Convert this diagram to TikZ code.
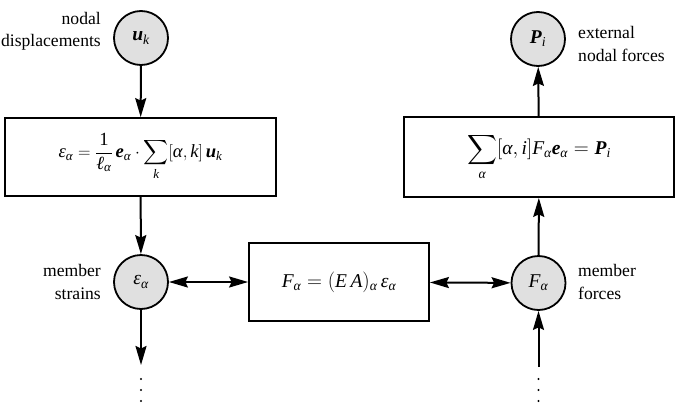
\documentclass[tikz,border=0pt]{standalone}
\usepackage{amsmath}
\usepackage{fontspec}
\setmainfont{Liberation Serif}
\usetikzlibrary{arrows.meta}
\newcommand{\mi}[1]{\text{\normalfont\itshape #1}}
\newcommand{\mb}[1]{\text{\normalfont\bfseries\itshape #1}}
\newcommand{\mr}[1]{\text{\normalfont #1}}
\begin{document}
\begin{tikzpicture}[x=1pt,y=-1pt,
  every node/.style={font=\rmfamily\fontsize{17.6}{22.5}\selectfont},
  mathbig/.style={font=\rmfamily\fontsize{19.5}{24}\selectfont},
  quant/.style={circle,draw,line width=1.8pt,fill=black!12,minimum size=54pt,inner sep=0pt,mathbig},
  eqbox/.style={rectangle,draw,line width=1.8pt,inner sep=0pt},
  lbl/.style={inner sep=0pt},
  conn/.style={line width=2pt,-{Stealth[length=19pt,width=11pt,inset=2.5pt]}},
  dconn/.style={line width=2pt,{Stealth[length=19pt,width=11pt,inset=2.5pt]}-{Stealth[length=19pt,width=11pt,inset=2.5pt]}},
  dotmark/.style={circle,fill=black,inner sep=0pt,minimum size=2.2pt}]
\useasboundingbox (0,0) rectangle (676,412);
% quantity nodes
\node[quant] (uk) at (141,38) {$\mb{u}_{\mi{k}}$};
\node[quant] (P) at (538,39) {$\mb{P}_{\mi{i}}$};
\node[quant] (eps) at (141,282) {$\mi{ε}_{\mi{α}}$};
\node[quant] (F) at (538.5,283) {$\mi{F}_{\mi{α}}$};
% equation boxes
\node[eqbox,minimum width=271pt,minimum height=78pt,font=\rmfamily\fontsize{18.6}{23}\selectfont] (b1) at (140.5,157)
  {$\displaystyle \mi{ε}_{\mi{α}} = \frac{\mr{1}}{\mi{ℓ}_{\mi{α}}}\,\mb{e}_{\mi{α}}\cdot\sum_{\mi{k}}[\mi{α},\mi{k}]\,\mb{u}_{\mi{k}}$};
\node[eqbox,minimum width=270pt,minimum height=80pt,mathbig] (b2) at (539,157)
  {$\displaystyle \sum_{\mi{α}}[\mi{α},\mi{i}]\mi{F}_{\mi{α}}\mb{e}_{\mi{α}} = \mb{P}_{\mi{i}}$};
\node[eqbox,minimum width=180pt,minimum height=78pt,mathbig] (b3) at (339,282)
  {$\mi{F}_{\mi{α}} = (\mi{E}\,\mi{A})_{\mi{α}}\,\mi{ε}_{\mi{α}}$};
% labels
\node[lbl,anchor=east,align=right] (l1) at (101,31.5) {nodal\\displacements};
\node[lbl,anchor=west,align=left] (l2) at (578,44) {external\\nodal forces};
\node[lbl,anchor=east,align=right] (l3) at (101,282) {member\\strains};
\node[lbl,anchor=west,align=left] (l4) at (578,282) {member\\forces};
% free ends
\coordinate (eend) at (141,365);
\coordinate (fstart) at (538.5,367);
% dots
\node[dotmark] (d1) at (141,379) {};
\node[dotmark] (d2) at (141,390) {};
\node[dotmark] (d3) at (141,401) {};
\node[dotmark] (d4) at (538.5,379) {};
\node[dotmark] (d5) at (538.5,390) {};
\node[dotmark] (d6) at (538.5,401) {};
% connectors
\draw[conn] (uk) -- (b1);
\draw[conn] (b1) -- (eps);
\draw[conn] (eps) -- (eend);
\draw[conn] (fstart) -- (F);
\draw[conn] (F) -- (b2);
\draw[conn] (b2) -- (P);
\draw[dconn] (eps) -- (b3);
\draw[dconn] (b3) -- (F);
\end{tikzpicture}
\end{document}
